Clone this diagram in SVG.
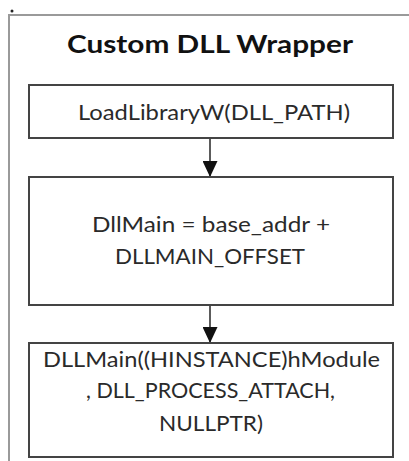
<svg xmlns="http://www.w3.org/2000/svg" width="409" height="461" viewBox="0 0 409 461">
<defs>
<style>
.frame{fill:none;stroke:#9a9a9a;stroke-width:2}
.box{fill:#ffffff;stroke:#444444;stroke-width:2}
.conn{stroke:#333333;stroke-width:1.6;fill:none}
.t{font-family:Lato,"Open Sans","Liberation Sans",sans-serif;font-size:21px;fill:#2a2a2a;text-anchor:middle}
.title{font-family:Lato,"Open Sans","Liberation Sans",sans-serif;font-size:24px;font-weight:bold;fill:#111111;text-anchor:middle}
</style>
<marker id="arr" markerWidth="16" markerHeight="15" refX="16" refY="7.5" orient="auto" markerUnits="userSpaceOnUse">
<path d="M0,0 L16,7.5 L0,15 Z" fill="#111111"/>
</marker>
</defs>
<rect width="409" height="461" fill="#ffffff"/>
<g id="frame">
<path class="frame" d="M9,461 L9,15 L409,15"/>
<circle cx="12" cy="11" r="1.5" fill="#222222"/>
<text class="title" x="210" y="53" textLength="286" lengthAdjust="spacingAndGlyphs">Custom DLL Wrapper</text>
</g>
<g id="connectors">
<line class="conn" x1="210" y1="139" x2="210" y2="177" marker-end="url(#arr)"/>
<line class="conn" x1="210" y1="305" x2="210" y2="343" marker-end="url(#arr)"/>
</g>
<g id="node1">
<rect class="box" x="29" y="85" width="364" height="53"/>
<text class="t" x="214" y="120" textLength="272" lengthAdjust="spacingAndGlyphs">LoadLibraryW(DLL_PATH)</text>
</g>
<g id="node2">
<rect class="box" x="29" y="177" width="364" height="128"/>
<text class="t" x="211" y="232" textLength="238" lengthAdjust="spacingAndGlyphs">DllMain = base_addr +</text>
<text class="t" x="210" y="264" textLength="190" lengthAdjust="spacingAndGlyphs">DLLMAIN_OFFSET</text>
</g>
<g id="node3">
<rect class="box" x="29" y="343" width="364" height="114"/>
<text class="t" x="211.5" y="367" textLength="337" lengthAdjust="spacingAndGlyphs">DLLMain((HINSTANCE)hModule</text>
<text class="t" x="210.5" y="398" textLength="249" lengthAdjust="spacingAndGlyphs">, DLL_PROCESS_ATTACH,</text>
<text class="t" x="211" y="431" textLength="104" lengthAdjust="spacingAndGlyphs">NULLPTR)</text>
</g>
</svg>
